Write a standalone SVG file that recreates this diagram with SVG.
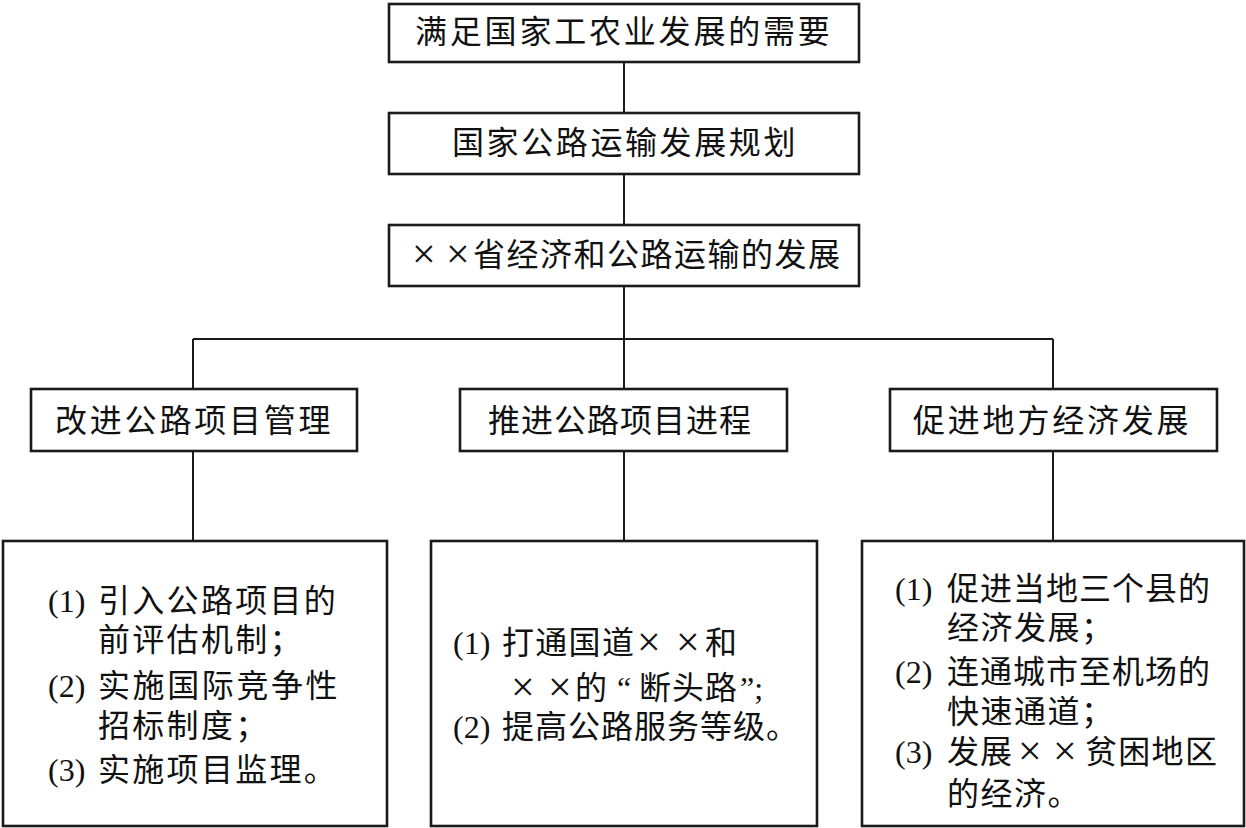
<svg xmlns="http://www.w3.org/2000/svg" width="1246" height="828" viewBox="0 0 1246 828">
<style>
.box{fill:#fff;stroke:#1a1a1a;stroke-width:2.6}
.con{fill:none;stroke:#1a1a1a;stroke-width:2}
text{font-family:"Liberation Serif","Noto Sans CJK SC",serif;font-size:32px;fill:#111}
.x{font-size:42px}
</style>
<rect width="1246" height="828" fill="#fff"/>
<g id="connectors">
<path class="con" d="M624 62V113M624 174V225M624 286V339M193 339H1053M193 339V389M624 339V389M1053 339V389M193 451V541M624 451V541M1053 451V541"/>
</g>
<g id="n1"><rect class="box" x="389" y="4" width="470" height="58"/><text x="415" y="43" letter-spacing="2.8">满足国家工农业发展的需要</text></g>
<g id="n2"><rect class="box" x="389" y="113" width="470" height="61"/><text x="452" y="154" letter-spacing="2.6">国家公路运输发展规划</text></g>
<g id="n3"><rect class="box" x="389" y="225" width="470" height="61"/><text y="266"><tspan class="x" x="412" y="268">×</tspan><tspan class="x" x="446" y="268">×</tspan><tspan x="473" y="266" letter-spacing="1.5">省经济和公路运输的发展</tspan></text></g>
<g id="n4"><rect class="box" x="31" y="389" width="326" height="62"/><text x="55" y="432" letter-spacing="2.8">改进公路项目管理</text></g>
<g id="n5"><rect class="box" x="460" y="389" width="327" height="62"/><text x="488" y="432" letter-spacing="1">推进公路项目进程</text></g>
<g id="n6"><rect class="box" x="890" y="389" width="327" height="62"/><text x="913" y="432" letter-spacing="2.8">促进地方经济发展</text></g>
<g id="n7"><rect class="box" x="3" y="541" width="384" height="285"/>
<text y="612"><tspan x="48">(1)</tspan><tspan x="98" letter-spacing="2.3">引入公路项目的</tspan></text>
<text y="651"><tspan x="98" letter-spacing="2.3">前评估机制；</tspan></text>
<text y="697"><tspan x="48">(2)</tspan><tspan x="98" letter-spacing="2.6">实施国际竞争性</tspan></text>
<text y="737"><tspan x="98" letter-spacing="2.3">招标制度；</tspan></text>
<text y="781"><tspan x="48">(3)</tspan><tspan x="98" letter-spacing="2.3">实施项目监理。</tspan></text>
</g>
<g id="n8"><rect class="box" x="431" y="541" width="386" height="285"/>
<text y="654"><tspan x="453">(1)</tspan><tspan x="502" letter-spacing="1.3">打通国道</tspan><tspan class="x" x="637" y="656">×</tspan><tspan class="x" x="676" y="656">×</tspan><tspan x="705" y="654">和</tspan></text>
<text y="699"><tspan class="x" x="511" y="701">×</tspan><tspan class="x" x="548" y="701">×</tspan><tspan x="575" y="699">的</tspan><tspan x="617">“</tspan><tspan x="639" letter-spacing="1">断头路</tspan><tspan x="740">”;</tspan></text>
<text y="738"><tspan x="453">(2)</tspan><tspan x="502" letter-spacing="1">提高公路服务等级。</tspan></text>
</g>
<g id="n9"><rect class="box" x="862" y="541" width="382" height="285"/>
<text y="600"><tspan x="895">(1)</tspan><tspan x="947" letter-spacing="1">促进当地三个县的</tspan></text>
<text y="639"><tspan x="947" letter-spacing="1.5">经济发展；</tspan></text>
<text y="683"><tspan x="895">(2)</tspan><tspan x="947" letter-spacing="1">连通城市至机场的</tspan></text>
<text y="723"><tspan x="947" letter-spacing="1.5">快速通道；</tspan></text>
<text y="763"><tspan x="895">(3)</tspan><tspan x="947" letter-spacing="1">发展</tspan><tspan class="x" x="1018" y="765">×</tspan><tspan class="x" x="1053" y="765">×</tspan><tspan x="1085" y="763" letter-spacing="1.3">贫困地区</tspan></text>
<text y="805"><tspan x="947" letter-spacing="1.5">的经济。</tspan></text>
</g>
</svg>
